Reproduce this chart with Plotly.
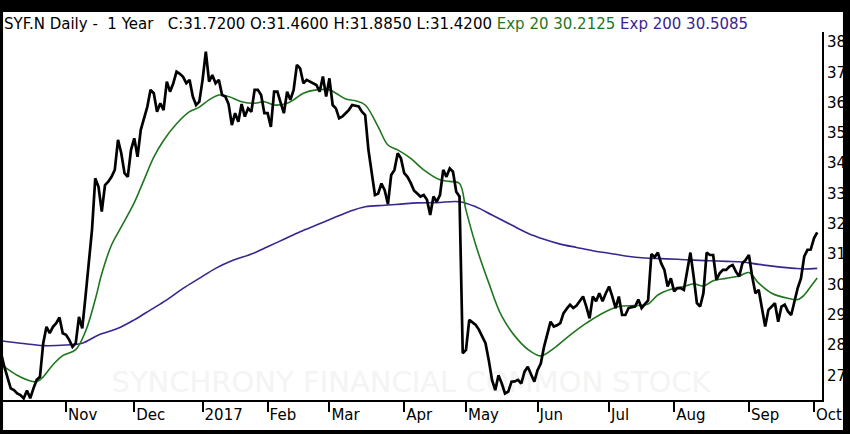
import pandas as pd
import plotly.graph_objects as go

# trading calendar for the one-year window (NYSE holidays removed)
market_holidays = ["2016-11-24", "2016-12-26", "2017-01-02", "2017-01-16", "2017-02-20",
                   "2017-04-14", "2017-05-29", "2017-07-04", "2017-09-04"]
days = pd.bdate_range("2016-10-03", "2017-10-03", freq="C", holidays=market_holidays)

month_labels = ["Nov", "Dec", "2017", "Feb", "Mar", "Apr", "May", "Jun", "Jul", "Aug", "Sep", "Oct"]

# daily close
close = [
    28.00, 27.75, 27.30, 26.95, 26.57, 26.51, 26.40, 26.35, 26.24, 26.50,
    26.24, 26.57, 26.85, 26.95, 28.06, 28.60, 28.39, 28.60, 28.72, 28.91,
    28.39, 28.34, 28.17, 27.94, 28.06, 28.93, 28.55, 29.60, 30.70, 31.80,
    33.50, 33.22, 32.40, 33.28, 33.39, 33.55, 33.78, 34.77, 34.33, 33.67,
    33.55, 34.44, 34.82, 34.21, 35.10, 35.50, 35.86, 36.42, 36.31, 35.70,
    35.98, 35.75, 36.69, 36.36, 36.64, 37.02, 36.95, 36.85, 36.64, 36.75,
    36.20, 35.92, 36.03, 36.75, 37.68, 36.69, 36.91, 36.64, 36.75, 36.25,
    36.20, 35.95, 35.26, 35.65, 35.37, 35.95, 35.54, 35.81, 35.70, 36.42,
    36.42, 36.25, 35.65, 35.65, 35.20, 36.36, 36.36, 36.00, 35.65, 36.36,
    36.09, 36.42, 37.24, 37.13, 36.64, 36.75, 36.70, 36.64, 36.58, 36.36,
    36.86, 36.20, 36.80, 35.92, 35.81, 35.48, 35.54, 35.65, 35.76, 35.92,
    35.90, 35.87, 35.70, 35.59, 34.44, 33.70, 32.95, 33.00, 33.33, 33.11,
    32.65, 33.61, 33.78, 34.33, 34.16, 33.67, 33.55, 33.35, 33.10, 33.00,
    32.90, 32.95, 32.79, 32.29, 32.90, 32.73, 32.95, 33.78, 33.55, 33.83,
    33.72, 33.06, 32.90, 27.73, 27.84, 28.83, 28.75, 28.66, 28.50, 28.30,
    28.06, 27.50, 26.85, 26.51, 27.00, 26.73, 26.40, 26.46, 26.79, 26.80,
    26.85, 26.73, 27.12, 27.28, 27.06, 26.79, 27.17, 27.39, 27.94, 28.34,
    28.77, 28.61, 28.65, 28.72, 29.05, 29.20, 29.33, 29.22, 29.30, 29.45,
    29.60, 29.27, 28.88, 29.60, 29.44, 29.71, 29.44, 29.71, 29.93, 29.60,
    29.22, 29.60, 28.99, 28.99, 29.22, 29.25, 29.27, 29.50, 29.22, 29.35,
    29.47, 31.00, 30.90, 31.05, 30.70, 30.48, 29.93, 30.20, 29.77, 29.88,
    29.88, 29.82, 30.48, 31.05, 30.26, 29.38, 29.27, 29.71, 31.05, 30.97,
    30.97, 30.15, 30.37, 30.48, 30.48, 30.59, 30.64, 30.42, 30.26, 30.70,
    30.81, 30.97, 30.26, 29.71, 29.82, 29.27, 28.61, 29.16, 29.27, 29.38,
    28.77, 29.27, 29.33, 29.11, 28.99, 29.49, 29.88, 30.20, 30.92, 31.14,
    31.15, 31.52, 31.72,
]

# exponential averages at the listed trading days
ema20_day = [0, 2, 6, 9, 12, 14, 17, 20, 24, 27, 30, 32, 35, 38, 42, 45, 48, 51, 55, 59,
             62, 65, 68, 71, 75, 79, 82, 85, 89, 91, 94, 98, 102, 104, 107, 110, 113, 117,
             120, 123, 127, 131, 136, 139, 142, 144, 147, 151, 155, 160, 164, 167, 171,
             176, 181, 186, 191, 196, 200, 203, 207, 211, 214, 217, 220, 224, 228, 231,
             234, 238, 243, 246, 248, 250, 252]
ema20 = [27.40, 27.28, 27.00, 26.85, 26.79, 26.95, 27.35, 27.65, 27.85, 28.45, 29.50, 30.35,
         31.30, 31.90, 32.70, 33.45, 34.20, 34.75, 35.30, 35.70, 35.85, 36.09, 36.25, 36.20,
         36.03, 35.98, 36.03, 35.92, 35.98, 36.09, 36.31, 36.42, 36.42, 36.31, 36.12, 36.06,
         35.92, 35.20, 34.60, 34.44, 34.16, 33.78, 33.45, 33.40, 33.33, 32.45, 31.30, 30.05,
         28.95, 28.17, 27.78, 27.64, 27.89, 28.33, 28.72, 29.05, 29.27, 29.30, 29.35, 29.65,
         29.84, 29.93, 30.02, 29.95, 30.12, 30.20, 30.28, 30.39, 30.04, 29.71, 29.54, 29.50,
         29.65, 29.93, 30.21]

ema200_day = [0, 7, 14, 21, 26, 31, 37, 42, 47, 52, 57, 62, 67, 72, 78, 83, 88, 93, 98, 103,
              108, 113, 119, 124, 129, 135, 142, 147, 152, 158, 163, 168, 173, 178, 183, 188,
              193, 199, 204, 209, 214, 219, 224, 229, 234, 240, 245, 248, 252]
ema200 = [28.15, 28.06, 27.98, 28.00, 28.06, 28.33, 28.55, 28.83, 29.16, 29.49, 29.87, 30.20,
          30.53, 30.78, 31.00, 31.24, 31.49, 31.74, 31.96, 32.18, 32.40, 32.56, 32.61, 32.65,
          32.69, 32.70, 32.73, 32.56, 32.29, 31.96, 31.69, 31.49, 31.33, 31.22, 31.11, 31.03,
          30.94, 30.87, 30.85, 30.83, 30.80, 30.78, 30.76, 30.74, 30.66, 30.58, 30.53, 30.51,
          30.53]

GREEN = "#1f761f"
PURPLE = "#3a2490"
FONT = "DejaVu Sans"

# first trading day of each month gets a tick
day_series = pd.Series(range(len(days)), index=days)
month_first = day_series.groupby([days.year, days.month]).first().tolist()[1:]

fig = go.Figure()
fig.add_trace(go.Scatter(x=ema200_day, y=ema200, mode="lines", name="Exp 200",
                         line={"color": PURPLE, "width": 1.6, "shape": "spline"}))
fig.add_trace(go.Scatter(x=ema20_day, y=ema20, mode="lines", name="Exp 20",
                         line={"color": GREEN, "width": 1.6, "shape": "spline"}))
fig.add_trace(go.Scatter(x=list(range(len(close))), y=close, mode="lines", name="SYF.N",
                         customdata=[d.strftime("%Y-%m-%d") for d in days[:len(close)]],
                         hovertemplate="%{customdata}<br>%{y:.2f}<extra></extra>",
                         line={"color": "black", "width": 2.7}))

title_text = ("SYF.N Daily -\u00a0 1 Year\u00a0\u00a0 C:31.7200 O:31.4600 H:31.8850 L:31.4200 "
              f"<span style='color:{GREEN}'>Exp 20 30.2125</span> "
              f"<span style='color:{PURPLE}'>Exp 200 30.5085</span>")

# black frame around the picture
frame = [(-0.01, 1.0543, 1.1, 1.2), (-0.01, -0.2, 0.0037, 1.2),
         (1.0255, -0.2, 1.1, 1.2), (-0.01, -0.2, 1.1, -0.0815)]
shapes = [dict(type="rect", xref="paper", yref="paper", x0=a, y0=b, x1=c, y1=d,
               fillcolor="black", line={"width": 0}, layer="above") for a, b, c, d in frame]
shapes.append(dict(type="rect", xref="paper", yref="paper", x0=0.13, x1=0.87, y0=0.005, y1=0.105,
                   line={"width": 0}, layer="below",
                   label={"text": "SYNCHRONY FINANCIAL COMMON STOCK",
                          "font": {"family": FONT, "size": 29, "color": "#f4f4f4"},
                          "textposition": "middle center"}))

fig.update_layout(
    width=850, height=434,
    margin={"l": 0, "r": 28, "t": 32, "b": 34},
    paper_bgcolor="white", plot_bgcolor="white",
    showlegend=False,
    font={"family": FONT, "size": 15, "color": "black"},
    title={"text": title_text, "x": 4 / 850, "xanchor": "left", "y": 1 - 24 / 434,
           "yanchor": "middle", "font": {"family": FONT, "size": 15, "color": "black"}},
    xaxis={"range": [0.71, 253.47], "showgrid": False, "zeroline": False,
           "showline": True, "linecolor": "black", "linewidth": 2,
           "tickmode": "array", "tickvals": month_first, "ticktext": month_labels,
           "ticks": "outside", "ticklen": 10, "tickwidth": 2, "tickcolor": "black",
           "ticklabelposition": "outside right", "tickfont": {"size": 15}},
    yaxis={"range": [26.185, 38.33], "side": "right", "showgrid": False, "zeroline": False,
           "showline": True, "linecolor": "black", "linewidth": 2,
           "tickmode": "linear", "tick0": 27, "dtick": 1, "ticks": "",
           "tickfont": {"size": 15}},
    shapes=shapes,
)

# drop the browser's default body margin so the figure sits at the page corner
fig.write_html("out.html", config={"displayModeBar": False},
               post_script="document.body.style.margin = '0';")
